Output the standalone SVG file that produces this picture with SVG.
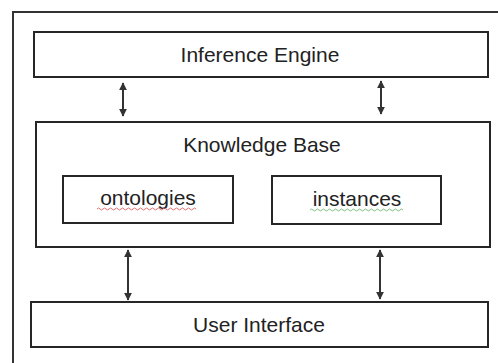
<svg xmlns="http://www.w3.org/2000/svg" width="498" height="363" viewBox="0 0 498 363">
  <defs>
    <style>
      .box { fill: #fff; stroke: #262626; stroke-width: 2; }
      .lbl { font-family: "Liberation Sans", Arial, sans-serif; font-size: 21px; fill: #222; text-anchor: middle; }
      .conn { stroke: #333; stroke-width: 2; fill: none; marker-start: url(#ah); marker-end: url(#ah); }
      .frame { stroke: #333; stroke-width: 2; fill: none; }
    </style>
    <marker id="ah" viewBox="0 0 10 10" refX="9" refY="5" markerWidth="4" markerHeight="4" orient="auto-start-reverse" markerUnits="strokeWidth">
      <path d="M0,0 L10,5 L0,10 z" fill="#333"/>
    </marker>
  </defs>
  <rect width="498" height="363" fill="#fff"/>
  <path class="frame" d="M13,363 V12 H498"/>

  <g id="inference-engine">
    <rect class="box" x="34" y="32" width="454" height="45"/>
    <text class="lbl" x="260" y="62">Inference Engine</text>
  </g>

  <g id="knowledge-base">
    <rect class="box" x="36" y="122" width="454" height="125"/>
    <text class="lbl" x="262" y="152">Knowledge Base</text>
  </g>

  <g id="ontologies">
    <rect class="box" x="63" y="176" width="170" height="47"/>
    <text class="lbl" x="148" y="205">ontologies</text>
    <path d="M97,209 q1.5,-2 3,0 t3,0 t3,0 t3,0 t3,0 t3,0 t3,0 t3,0 t3,0 t3,0 t3,0 t3,0 t3,0 t3,0 t3,0 t3,0 t3,0 t3,0 t3,0 t3,0 t3,0 t3,0 t3,0 t3,0 t3,0 t3,0 t3,0 t3,0 t3,0 t3,0 t3,0 t3,0 t3,0" fill="none" stroke="#e07070" stroke-width="1"/>
  </g>

  <g id="instances">
    <rect class="box" x="272" y="176" width="169" height="48"/>
    <text class="lbl" x="357" y="206">instances</text>
    <path d="M310,210 q1.5,-2 3,0 t3,0 t3,0 t3,0 t3,0 t3,0 t3,0 t3,0 t3,0 t3,0 t3,0 t3,0 t3,0 t3,0 t3,0 t3,0 t3,0 t3,0 t3,0 t3,0 t3,0 t3,0 t3,0 t3,0 t3,0 t3,0 t3,0 t3,0 t3,0 t3,0 t3,0" fill="none" stroke="#80c080" stroke-width="1"/>
  </g>

  <g id="user-interface">
    <rect class="box" x="31" y="302" width="457" height="45"/>
    <text class="lbl" x="259" y="332">User Interface</text>
  </g>

  <g id="connectors">
    <line class="conn" x1="123" y1="83" x2="123" y2="116"/>
    <line class="conn" x1="381" y1="81" x2="381" y2="114"/>
    <line class="conn" x1="128" y1="250" x2="128" y2="300"/>
    <line class="conn" x1="380" y1="250" x2="380" y2="299"/>
  </g>
</svg>
